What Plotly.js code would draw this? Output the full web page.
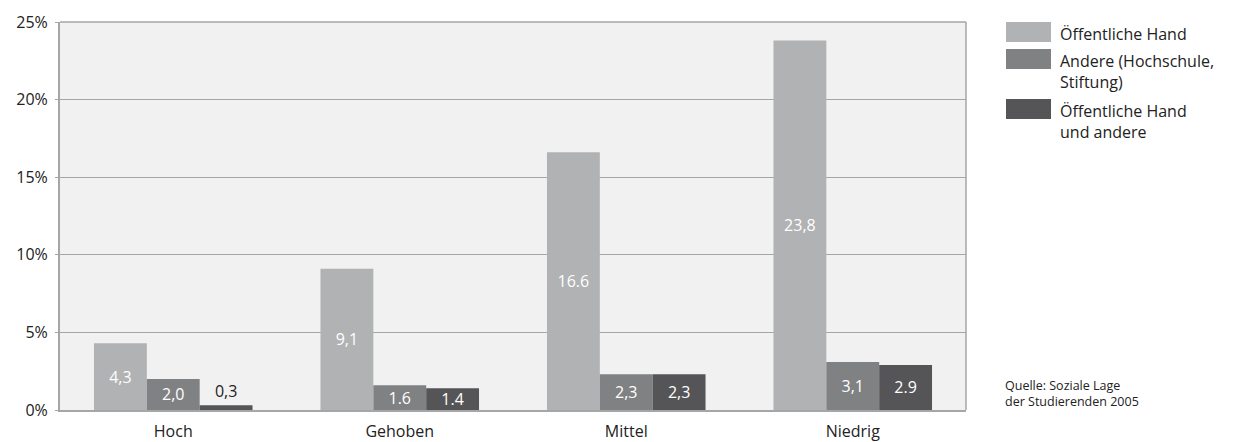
<!DOCTYPE html>
<html><head><meta charset="utf-8">
<script src="https://cdn.plot.ly/plotly-3.0.1.min.js"></script>
<style>html,body{margin:0;padding:0;background:#fff}#chart{width:1238px;height:442px}</style>
</head><body><div id="chart"></div>
<script>
const categories = ['Hoch', 'Gehoben', 'Mittel', 'Niedrig'];
const seriesNames = ['Öffentliche Hand', 'Andere (Hochschule,<br>Stiftung)', 'Öffentliche Hand<br>und andere'];
const oeffentlich = [4.3, 9.1, 16.6, 23.8];
const andere = [2.0, 1.6, 2.3, 3.1];
const beide = [0.3, 1.4, 2.3, 2.9];
const oeffentlichLabels = ['4,3', '9,1', '16.6', '23,8'];
const andereLabels = ['2,0', '1.6', '2,3', '3,1'];
const beideLabels = ['0,3', '1.4', '2,3', '2.9'];
const colors = ['#b1b2b4', '#808183', '#555557'];
const sourceText = 'Quelle: Soziale Lage<br>der Studierenden 2005';

const FONT = 'Open Sans, Lato, sans-serif';
const series = [oeffentlich, andere, beide];
const labels = [oeffentlichLabels, andereLabels, beideLabels];

const traces = series.map((vals, i) => ({
  type: 'bar', x: categories, y: vals, name: seriesNames[i],
  marker: {color: colors[i], line: {width: 0}},
  text: labels[i],
  textposition: vals.map(v => v < 1 ? 'outside' : 'inside'),
  insidetextanchor: 'middle',
  constraintext: 'none',
  cliponaxis: false,
  textfont: {family: FONT, size: 16},
  insidetextfont: {family: FONT, size: 16, color: '#ffffff'},
  outsidetextfont: {family: FONT, size: 16, color: '#222222'},
  hoverinfo: 'none',
  showlegend: false
}));

const shapes = [];
const annotations = [];
const legendTop = [22, 49, 99];
colors.forEach((c, i) => {
  shapes.push({type: 'rect', xref: 'paper', yref: 'paper',
    x0: (1006 - 60) / 906, x1: (1051 - 60) / 906,
    y0: (410 - legendTop[i]) / 388, y1: (410 - legendTop[i] - 20) / 388,
    fillcolor: c, line: {width: 0}});
  annotations.push({xref: 'paper', yref: 'paper',
    x: (1058 - 60) / 906, y: (410 - legendTop[i] + 1) / 388,
    xanchor: 'left', yanchor: 'top', align: 'left',
    text: seriesNames[i], showarrow: false,
    font: {family: FONT, size: 16, color: '#222'}});
});
annotations.push({xref: 'paper', yref: 'paper', x: (1003 - 60) / 906, y: (410 - 375) / 388,
  xanchor: 'left', yanchor: 'top', align: 'left', text: sourceText, showarrow: false,
  font: {family: FONT, size: 12.5, color: '#222'}});
// right and top border
shapes.push({type: 'line', xref: 'paper', yref: 'paper', x0: 1, x1: 1, y0: 0, y1: 1,
  line: {color: '#a5a6a8', width: 1.5}});
shapes.push({type: 'line', xref: 'paper', yref: 'paper', x0: 0, x1: 1, y0: 1, y1: 1,
  line: {color: '#a5a6a8', width: 1.5}});

const layout = {
  width: 1238, height: 442,
  margin: {l: 60, r: 272, t: 22, b: 32},
  paper_bgcolor: '#ffffff', plot_bgcolor: '#f0f1f0',
  barmode: 'group', bargap: 0.3, bargroupgap: 0,
  font: {family: FONT, size: 16, color: '#222'},
  xaxis: {showgrid: false, showline: true, linecolor: '#a5a6a8', linewidth: 2,
    ticks: '', ticklabelstandoff: 6, tickfont: {family: FONT, size: 16, color: '#222'}, fixedrange: true},
  yaxis: {range: [0, 25], dtick: 5, ticksuffix: '%', showgrid: true, gridcolor: '#a5a6a8',
    gridwidth: 1.2, showline: true, linecolor: '#a5a6a8', linewidth: 2, zeroline: false,
    ticks: 'outside', ticklen: 3, tickcolor: '#a5a6a8', ticklabelstandoff: 4,
    tickfont: {family: FONT, size: 16, color: '#222'}, fixedrange: true},
  showlegend: false,
  shapes: shapes, annotations: annotations
};
Plotly.newPlot('chart', traces, layout, {displayModeBar: false, staticPlot: true});
</script></body></html>
